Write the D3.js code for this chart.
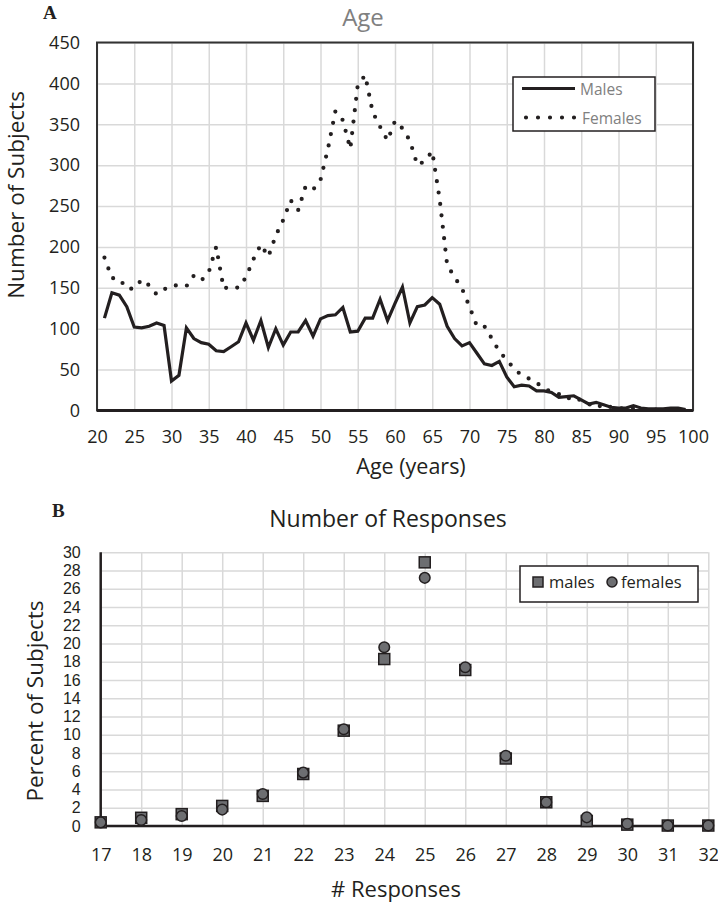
<!DOCTYPE html>
<html><head><meta charset="utf-8">
<script src="https://cdn.jsdelivr.net/npm/d3@7"></script>
<style>
html,body{margin:0;padding:0;background:#fff;}
svg{display:block;font-family:"Open Sans",sans-serif;}
</style></head>
<body>
<svg id="chart" width="718" height="908"></svg>
<script>
// ---------- Panel A data ----------
const ages = d3.range(21, 100);
const males = [113,144,141,127,102,101,103,107,104,36,43,101,88,83,81,73,72,78,84,107,86,110,77,100,80,96,96,110,91,112,116,117,126,96,97,113,113,136,110,131,151,107,127,129,138,130,103,88,79,83,70,57,55,60,41,29,31,30,24,24,22,16,17,18,13,8,10,7,4,3,3,6,3,2,2,2,3,3,1];
const females = [187,162,161,149,149,160,153,142,148,153,153,152,165,159,169,200,149,152,150,163,185,203,188,214,233,257,245,274,270,282,320,366,355,320,398,410,365,347,330,354,345,330,300,305,317,258,178,163,149,127,103,103,88,72,62,51,43,39,34,27,23,20,14,17,12,8,3,8,4,3,2,3,2,1,1,1,1,1,1];
const ageTicks = d3.range(20, 101, 5);
const countTicks = d3.range(0, 451, 50);
const seriesA = ["Males", "Females"];

// ---------- Panel B data ----------
const responses = d3.range(17, 33);
const malesPct = [0.4,0.9,1.3,2.2,3.3,5.7,10.45,18.3,28.9,17.1,7.4,2.6,0.55,0.15,0.05,0.05];
const femalesPct = [0.4,0.65,1.1,1.8,3.5,5.85,10.6,19.6,27.2,17.4,7.7,2.6,0.95,0.25,0.05,0.05];
const pctTicks = d3.range(0, 31, 2);
const seriesB = ["males", "females"];

const svg = d3.select("#chart");
const dark = "#231f20", grid = "#d9d9d9", markFill = "#6d6e71";

// ================= Panel A =================
const xA = d3.scaleLinear().domain([20, 100]).range([97, 693]);
const yA = d3.scaleLinear().domain([0, 450]).range([410.5, 42.5]);
const gA = svg.append("g");

gA.append("g").attr("transform", `translate(0,${yA(0)})`)
  .call(d3.axisBottom(xA).tickValues(ageTicks).tickSize(-(yA(0) - yA(450))).tickFormat(""))
  .call(g => g.select(".domain").remove())
  .call(g => g.selectAll("line").attr("stroke", grid).attr("stroke-width", 1.5));
gA.append("g").attr("transform", `translate(${xA(20)},0)`)
  .call(d3.axisLeft(yA).tickValues(countTicks).tickSize(-(xA(100) - xA(20))).tickFormat(""))
  .call(g => g.select(".domain").remove())
  .call(g => g.selectAll("line").attr("stroke", grid).attr("stroke-width", 1.5));

gA.append("rect").attr("x", xA(20)).attr("y", yA(450)).attr("width", xA(100) - xA(20)).attr("height", yA(0) - yA(450))
  .attr("fill", "none").attr("stroke", "#333").attr("stroke-width", 2);

const lineA = d3.line().x((d, i) => xA(ages[i])).y(d => yA(d));
gA.append("path").datum(males).attr("d", lineA).attr("fill", "none").attr("stroke", dark)
  .attr("stroke-width", 3.2).attr("stroke-linejoin", "miter");
gA.append("path").datum(females).attr("d", lineA).attr("fill", "none").attr("stroke", dark)
  .attr("stroke-width", 4.2).attr("stroke-linecap", "round").attr("stroke-dasharray", "0,11.5");

gA.append("line").attr("x1", xA(20)).attr("x2", xA(100)).attr("y1", yA(0)).attr("y2", yA(0))
  .attr("stroke", dark).attr("stroke-width", 3);

gA.append("g").attr("transform", `translate(0,${yA(0)})`)
  .call(d3.axisBottom(xA).tickValues(ageTicks).tickSize(0).tickPadding(20))
  .call(g => g.select(".domain").remove())
  .call(g => g.selectAll("text").attr("font-size", 18).attr("fill", dark).attr("font-family", "Open Sans"));
gA.append("g").attr("transform", `translate(${xA(20)},0)`)
  .call(d3.axisLeft(yA).tickValues(countTicks).tickSize(0).tickPadding(17))
  .call(g => g.select(".domain").remove())
  .call(g => g.selectAll("text").attr("font-size", 18).attr("fill", dark).attr("font-family", "Open Sans"));

svg.append("text").attr("x", 363).attr("y", 26).attr("text-anchor", "middle").attr("font-size", 24)
  .attr("fill", "#808080").text("Age");
svg.append("text").attr("x", 43).attr("y", 19).attr("font-family", "Liberation Serif").attr("font-weight", "bold")
  .attr("font-size", 19).attr("fill", dark).text("A");
svg.append("text").attr("transform", "translate(24,195) rotate(-90)").attr("text-anchor", "middle")
  .attr("font-size", 22.5).attr("fill", dark).text("Number of Subjects");
svg.append("text").attr("x", 411).attr("y", 474).attr("text-anchor", "middle").attr("font-size", 21.5)
  .attr("fill", dark).text("Age (years)");

const legA = gA.append("g");
legA.append("rect").attr("x", 513).attr("y", 77).attr("width", 142).attr("height", 54)
  .attr("fill", "#fff").attr("stroke", dark).attr("stroke-width", 1.5);
legA.append("line").attr("x1", 522).attr("x2", 575).attr("y1", 88.5).attr("y2", 88.5)
  .attr("stroke", dark).attr("stroke-width", 3.2);
legA.append("line").attr("x1", 526).attr("x2", 576).attr("y1", 117.5).attr("y2", 117.5)
  .attr("stroke", dark).attr("stroke-width", 4.2).attr("stroke-linecap", "round").attr("stroke-dasharray", "0,12");
legA.selectAll("text.l").data(seriesA).join("text").attr("class", "l")
  .attr("x", (d, i) => i ? 582 : 580).attr("y", (d, i) => i ? 123.5 : 94.5)
  .attr("font-size", 15.5).attr("fill", "#808080").text(d => d);

// ================= Panel B =================
const xB = d3.scaleLinear().domain([17, 32]).range([100.7, 708.3]);
const yB = d3.scaleLinear().domain([0, 30]).range([826, 552.3]);
const gB = svg.append("g");

gB.append("g").attr("transform", `translate(0,${yB(0)})`)
  .call(d3.axisBottom(xB).tickValues(responses).tickSize(-(yB(0) - yB(30))).tickFormat(""))
  .call(g => g.select(".domain").remove())
  .call(g => g.selectAll("line").attr("stroke", grid).attr("stroke-width", 1.5));
gB.append("g").attr("transform", `translate(${xB(17)},0)`)
  .call(d3.axisLeft(yB).tickValues(pctTicks).tickSize(-(xB(32) - xB(17))).tickFormat(""))
  .call(g => g.select(".domain").remove())
  .call(g => g.selectAll("line").attr("stroke", grid).attr("stroke-width", 1.5));

gB.append("line").attr("x1", xB(17)).attr("x2", xB(17)).attr("y1", yB(30)).attr("y2", yB(0))
  .attr("stroke", dark).attr("stroke-width", 2.5);
gB.append("line").attr("x1", xB(17)).attr("x2", xB(32)).attr("y1", yB(0)).attr("y2", yB(0))
  .attr("stroke", dark).attr("stroke-width", 2.5);

gB.append("g").attr("transform", `translate(0,${yB(0)})`)
  .call(d3.axisBottom(xB).tickValues(responses).tickSize(0).tickPadding(22))
  .call(g => g.select(".domain").remove())
  .call(g => g.selectAll("text").attr("font-size", 18).attr("fill", dark).attr("font-family", "Open Sans"));
gB.append("g").attr("transform", `translate(${xB(17)},0)`)
  .call(d3.axisLeft(yB).tickValues(pctTicks).tickSize(0).tickPadding(20))
  .call(g => g.select(".domain").remove())
  .call(g => g.selectAll("text").attr("font-size", 16).attr("fill", dark).attr("font-family", "Liberation Sans"));

gB.selectAll("rect.m").data(malesPct).join("rect").attr("class", "m")
  .attr("x", (d, i) => xB(responses[i]) - 5.5).attr("y", d => yB(d) - 5.5)
  .attr("width", 11).attr("height", 11).attr("fill", markFill).attr("stroke", dark).attr("stroke-width", 1.5);
gB.selectAll("circle.f").data(femalesPct).join("circle").attr("class", "f")
  .attr("cx", (d, i) => xB(responses[i])).attr("cy", d => yB(d)).attr("r", 5.3)
  .attr("fill", markFill).attr("stroke", dark).attr("stroke-width", 1.5);

svg.append("text").attr("x", 52).attr("y", 517).attr("font-family", "Liberation Serif").attr("font-weight", "bold")
  .attr("font-size", 19).attr("fill", dark).text("B");
svg.append("text").attr("x", 388).attr("y", 527).attr("text-anchor", "middle").attr("font-size", 23)
  .attr("fill", dark).text("Number of Responses");
svg.append("text").attr("transform", "translate(43,701) rotate(-90)").attr("text-anchor", "middle")
  .attr("font-size", 22.5).attr("fill", dark).text("Percent of Subjects");
svg.append("text").attr("x", 396).attr("y", 897).attr("text-anchor", "middle").attr("font-size", 22)
  .attr("fill", dark).text("# Responses");

const legB = gB.append("g");
legB.append("rect").attr("x", 520).attr("y", 566).attr("width", 178).attr("height", 36)
  .attr("fill", "#fff").attr("stroke", dark).attr("stroke-width", 1.5);
legB.append("rect").attr("x", 533).attr("y", 577).attr("width", 10).attr("height", 10)
  .attr("fill", markFill).attr("stroke", dark).attr("stroke-width", 1.5);
legB.append("circle").attr("cx", 612).attr("cy", 582).attr("r", 5)
  .attr("fill", markFill).attr("stroke", dark).attr("stroke-width", 1.5);
legB.selectAll("text.l").data(seriesB).join("text").attr("class", "l")
  .attr("x", (d, i) => i ? 621 : 549).attr("y", 588).attr("font-size", 16.5).attr("fill", dark).text(d => d);
</script>
</body></html>
